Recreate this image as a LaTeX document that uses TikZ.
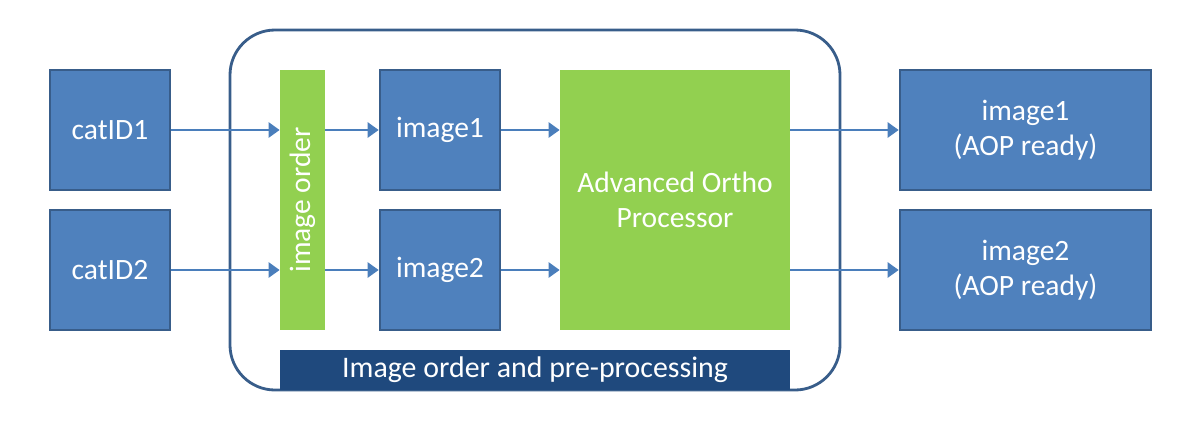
\documentclass[tikz,border=0pt]{standalone}
\usepackage{fontspec}
\setmainfont{Carlito}
\usepackage{xcolor}
\usepackage{tikz}
\usetikzlibrary{arrows.meta,positioning,calc}
\definecolor{aopfill}{HTML}{4F81BD}
\definecolor{aopedge}{HTML}{385D8A}
\definecolor{aoparrow}{HTML}{4A7EBB}
\definecolor{aopgreen}{HTML}{92D050}
\definecolor{aopnavy}{HTML}{1F497D}
\tikzset{
aopbox/.style={rectangle,draw=aopedge,fill=aopfill,line width=1.5pt,text=white,align=center,inner sep=0pt,minimum width=2.4cm,minimum height=2.4cm},
aopwide/.style={aopbox,minimum width=5.02cm},
aopproc/.style={rectangle,fill=aopgreen,text=white,align=center,inner sep=0pt},
aopframe/.style={rectangle,draw=aopedge,line width=1.6pt,rounded corners=0.9cm,inner sep=0pt,minimum width=12.2cm,minimum height=7.2cm},
aopbanner/.style={rectangle,fill=aopnavy,text=white,inner sep=0pt,minimum width=10.2cm,minimum height=0.8cm,font=\fontsize{17}{20}\selectfont},
aoparr/.style={-{Triangle[length=0.22cm,width=0.3cm]},draw=aoparrow,fill=aoparrow,line width=1.4pt}
}
\begin{document}
\begin{tikzpicture}[
x=1cm,
y=1cm,
every node/.style={font=\fontsize{16.8}{20}\selectfont}
]
\useasboundingbox (0,0) rectangle (24,-8.48);
\node[aopframe] (group) at (10.7,-4.2) {};
\node[aopbanner] (banner) at (10.7,-7.4) {Image order and pre-processing};
\node[aopbox] (cat1) at (2.2,-2.6) {catID1};
\node[aopbox] (cat2) at (2.2,-5.4) {catID2};
% rotated bar: its north side faces left, its south side faces right
\node[aopproc,rotate=90,minimum width=5.2cm,minimum height=0.9cm]
  (order) at (6.05,-4.0) {image order};
\node[aopbox] (img1) at (8.8,-2.6) {image1};
\node[aopbox] (img2) at (8.8,-5.4) {image2};
\node[aopproc,minimum width=4.6cm,minimum height=5.2cm]
  (ortho) at (13.5,-4.0) {Advanced Ortho\\Processor};
\node[aopwide] (out1) at (20.51,-2.6) {image1\\(AOP ready)};
\node[aopwide] (out2) at (20.51,-5.4) {image2\\(AOP ready)};
\draw[aoparr] (cat1.east)--(cat1.east -| order.north);
\draw[aoparr] (cat2.east)--(cat2.east -| order.north);
\draw[aoparr] (order.south |- img1.west)--(img1.west);
\draw[aoparr] (order.south |- img2.west)--(img2.west);
\draw[aoparr] (img1.east)--(img1.east -| ortho.west);
\draw[aoparr] (img2.east)--(img2.east -| ortho.west);
\draw[aoparr] (ortho.east |- out1.west)--(out1.west);
\draw[aoparr] (ortho.east |- out2.west)--(out2.west);
\end{tikzpicture}
\end{document}
